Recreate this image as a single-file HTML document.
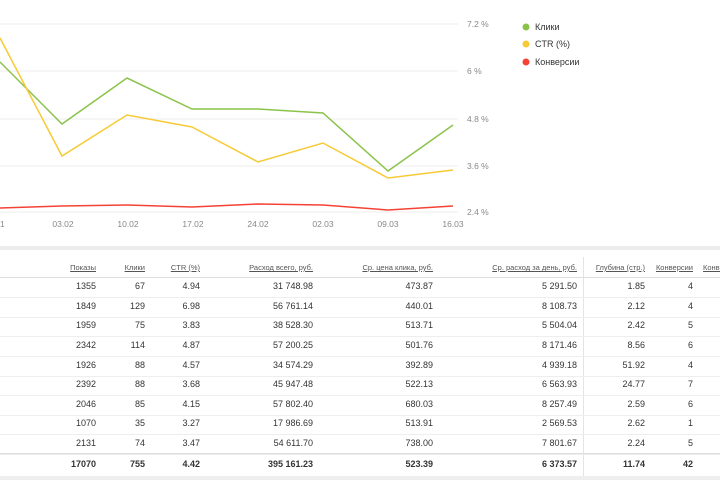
<!DOCTYPE html>
<html><head><meta charset="utf-8"><style>
body{margin:0;width:720px;height:480px;overflow:hidden;background:#fff;font-family:"Liberation Sans","Noto Sans CJK SC",sans-serif;color:#333;position:relative}
.t{position:absolute;font-size:9px;white-space:nowrap}
.r{text-align:right}
</style></head><body>
<svg width="720" height="250" style="position:absolute;left:0;top:0" font-family="Liberation Sans, sans-serif">
<g stroke="#eeeeee" stroke-width="1">
<line x1="0" x2="458" y1="24" y2="24"/><line x1="0" x2="458" y1="71" y2="71"/><line x1="0" x2="458" y1="119" y2="119"/><line x1="0" x2="458" y1="166" y2="166"/><line x1="0" x2="458" y1="212" y2="212"/>
</g>
<g font-size="8.5" fill="#888">
<text x="467" y="27">7.2 %</text><text x="467" y="74">6 %</text><text x="467" y="122">4.8 %</text><text x="467" y="169">3.6 %</text><text x="467" y="215">2.4 %</text>
<g text-anchor="middle"><text x="0" y="227">01</text><text x="63" y="227">03.02</text><text x="128" y="227">10.02</text><text x="193" y="227">17.02</text><text x="258" y="227">24.02</text><text x="323" y="227">02.03</text><text x="388" y="227">09.03</text><text x="453" y="227">16.03</text></g>
</g>
<polyline fill="none" stroke="#8bc34a" stroke-width="1.5" points="0,62 62,124 127,78 192,109 258,109 323,113 388,171 453,125"/>
<polyline fill="none" stroke="#f7ca35" stroke-width="1.5" points="0,38 62,156 127,115 192,127 258,162 323,143 388,178 453,170"/>
<polyline fill="none" stroke="#f44336" stroke-width="1.5" points="0,208 62,206 127,205 192,207 258,204 323,205 388,210 453,206"/>
<circle cx="526" cy="27" r="3.5" fill="#8bc34a"/><circle cx="526" cy="44" r="3.5" fill="#f7ca35"/><circle cx="526" cy="62" r="3.5" fill="#f44336"/>
<g font-size="9" fill="#333"><text x="535" y="30">Клики</text><text x="535" y="47">CTR (%)</text><text x="535" y="65">Конверсии</text></g>
</svg>
<div style="position:absolute;left:0;top:246px;width:720px;height:4px;background:#ececec"></div>
<div style="position:absolute;left:583px;top:257px;width:1px;height:223px;background:#e4e4e4"></div>
<div id="tb"></div>
<script>
var cols=[96,145,200,313,433,577,645,693];
var hdr=["Показы","Клики","CTR (%)","Расход всего, руб.","Ср. цена клика, руб.","Ср. расход за день, руб.","Глубина (стр.)","Конверсии"];
var rows=[["1355","67","4.94","31 748.98","473.87","5 291.50","1.85","4"],["1849","129","6.98","56 761.14","440.01","8 108.73","2.12","4"],["1959","75","3.83","38 528.30","513.71","5 504.04","2.42","5"],["2342","114","4.87","57 200.25","501.76","8 171.46","8.56","6"],["1926","88","4.57","34 574.29","392.89","4 939.18","51.92","4"],["2392","88","3.68","45 947.48","522.13","6 563.93","24.77","7"],["2046","85","4.15","57 802.40","680.03","8 257.49","2.59","6"],["1070","35","3.27","17 986.69","513.91","2 569.53","2.62","1"],["2131","74","3.47","54 611.70","738.00","7 801.67","2.24","5"],["17070","755","4.42","395 161.23","523.39","6 373.57","11.74","42"]];
var h="";
hdr.forEach(function(t,i){h+='<div class="t r" style="font-size:7.5px;text-decoration:underline;color:#555;right:'+(720-cols[i])+'px;top:263px">'+t+'</div>';});
h+='<div class="t" style="font-size:7.5px;text-decoration:underline;color:#555;left:703px;top:263px">Конверсии</div>';
var ys=[287,307,326,346,366,385,405,424,444,465];
h+='<div style="position:absolute;left:0;width:720px;top:277px;height:1px;background:#ddd"></div>';
rows.forEach(function(r,j){
 var y=ys[j];var b=j==9;
 if(j<9)h+='<div style="position:absolute;left:0;width:720px;top:'+(y+10)+'px;height:1px;background:#eee"></div>';
 r.forEach(function(t,i){h+='<div class="t r" style="right:'+(720-cols[i])+'px;top:'+(y-6)+'px;'+(b?'font-weight:bold;':'')+'">'+t+'</div>';});
});
h+='<div style="position:absolute;left:0;width:720px;top:453px;height:1px;background:#ddd"></div>';
h+='<div style="position:absolute;left:0;width:720px;top:476px;height:4px;background:#eee"></div>';
document.getElementById("tb").innerHTML=h;
</script>
</body></html>
